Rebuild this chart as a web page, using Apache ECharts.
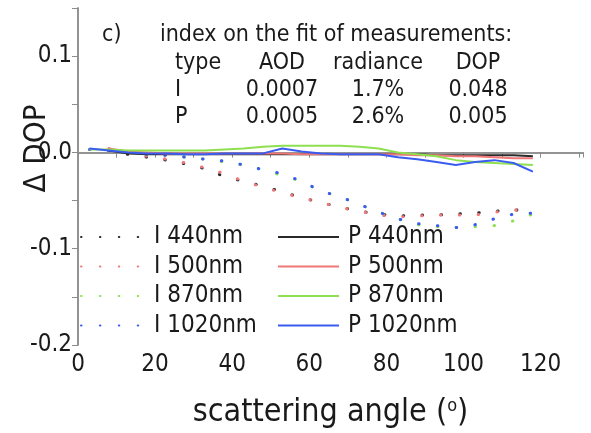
<!DOCTYPE html>
<html><head><meta charset="utf-8">
<script src="https://cdn.jsdelivr.net/npm/echarts@6/dist/echarts.min.js"></script>
<style>html,body{margin:0;padding:0;background:#fff}#c{width:591px;height:433px}</style>
</head><body><div id="c"></div>
<script>
// scattering angles (deg)
const angles = [3,8,13,18,23,28,33,38,43,48,53,58,63,68,73,78,83,88,93,98,103,108,113,118];
// intensity-based fit (dotted)
const I440  = [null,0.002,-0.002,-0.005,-0.008,-0.012,-0.017,-0.025,-0.030,-0.035,-0.041,-0.047,-0.052,-0.057,-0.061,-0.064,-0.066,-0.065,-0.065,-0.064,-0.063,-0.061,-0.060,-0.059];
const I500  = [null,0.004,0.000,-0.004,-0.007,-0.011,-0.016,-0.022,-0.030,-0.036,-0.042,-0.047,-0.052,-0.057,-0.061,-0.065,-0.067,-0.066,-0.065,-0.065,-0.065,-0.062,-0.060,-0.058];
const I870  = [0.003,0.002,0.000,-0.002,-0.003,-0.005,-0.007,-0.010,-0.013,-0.018,-0.024,-0.030,-0.040,-0.046,-0.054,-0.062,-0.069,-0.075,-0.077,-0.078,-0.077,-0.076,-0.071,-0.064];
const I1020 = [0.003,0.002,0.000,-0.002,-0.003,-0.005,-0.007,-0.009,-0.013,-0.018,-0.022,-0.030,-0.040,-0.046,-0.054,-0.062,-0.069,-0.074,-0.076,-0.078,-0.075,-0.069,-0.064,-0.063];
// polarization-based fit (solid)
const P440  = [null,0.002,-0.001,-0.002,-0.002,-0.002,-0.002,-0.002,-0.002,-0.002,-0.002,-0.002,-0.002,-0.002,-0.002,-0.002,-0.002,-0.002,-0.003,-0.003,-0.003,-0.003,-0.003,-0.004];
const P500  = [null,0.004,0.001,0.000,-0.001,-0.001,-0.001,-0.001,-0.001,-0.001,-0.001,-0.002,-0.002,-0.002,-0.002,-0.002,-0.002,-0.003,-0.003,-0.004,-0.004,-0.005,-0.006,-0.006];
const P870  = [0.003,0.003,0.002,0.002,0.002,0.002,0.002,0.003,0.004,0.006,0.007,0.007,0.007,0.007,0.006,0.004,0.000,-0.002,-0.004,-0.008,-0.010,-0.011,-0.012,-0.013];
const P1020 = [0.004,0.002,0.000,-0.001,-0.001,-0.002,-0.002,-0.001,-0.001,-0.001,0.004,0.001,-0.001,-0.002,-0.002,-0.002,-0.005,-0.007,-0.010,-0.013,-0.010,-0.008,-0.011,-0.020];
// names
const namesI = ['I 440nm','I 500nm','I 870nm','I 1020nm'];
const namesP = ['P 440nm','P 500nm','P 870nm','P 1020nm'];
// table
const tableTitle = 'index on the fit of measurements:';
const tableHead = ['type','AOD','radiance','DOP'];
const tableRowI = ['I','0.0007','1.7%','0.048'];
const tableRowP = ['P','0.0005','2.6%','0.005'];
const panelLabel = 'c)';

const colors = ['#2a2a2a','#f07878','#8ee050','#3a5cf0'];
const FF = "'DejaVu Sans Condensed','DejaVu Sans',sans-serif";
const pair = arr => angles.map((a,i)=>[a,arr[i]]);

const series = [];
[I440,I500,I870,I1020].forEach((d,i)=>series.push({
  name: namesI[i], type:'line', data: pair(d), symbol:'none', showSymbol:false, silent:true, animation:false,
  lineStyle:{color:colors[i], width:3, type:[0.5,18.4], cap:'round'}, itemStyle:{color:colors[i]}
}));
[P440,P500,P870,P1020].forEach((d,i)=>series.push({
  name: namesP[i], type:'line', data: pair(d), symbol:'none', showSymbol:false, silent:true, animation:false,
  lineStyle:{color:colors[i], width:2}, itemStyle:{color:colors[i]}
}));

const axisGray = '#8c8c8c';
const txt = (text,x,y,align)=>({type:'text', x:x, y:y, silent:true,
  style:{text:text, font:"23px "+FF, fill:'#1a1a1a', align:align||'left', verticalAlign:'middle'}});
const colX = [175,282,378,478];
const colA = ['left','center','center','center'];
const graphics = [txt(panelLabel,102,35), txt(tableTitle,160,35)];
[tableHead,tableRowI,tableRowP].forEach((row,r)=>row.forEach((t,c)=>graphics.push(txt(t,colX[c],63+r*27,colA[c]))));

const legendBase = {orient:'vertical', top:224, itemGap:3.5, itemHeight:14, padding:0,
  itemStyle:{color:'transparent', borderColor:'transparent', borderWidth:0},
  textStyle:{fontFamily:FF, fontSize:24, color:'#1a1a1a', lineHeight:26, padding:[0,0,0,4]}, selectedMode:false};

const chart = echarts.init(document.getElementById('c'), null, {renderer:'canvas'});
chart.setOption({
  animation:false,
  backgroundColor:'#fff',
  grid:{left:78, right:8, top:8, bottom:88, containLabel:false, outerBoundsMode:'none'},
  legend:[
    Object.assign({}, legendBase, {left:80, itemWidth:64, data:namesI}),
    Object.assign({}, legendBase, {left:277, itemWidth:61, data:namesP})
  ],
  xAxis:[{
    type:'value', min:0, max:131, interval:10, position:'bottom',
    name:'scattering angle ({s|o})', nameLocation:'middle', nameGap:52, nameMoveOverlap:false,
    nameTextStyle:{fontFamily:FF, fontSize:32, color:'#1a1a1a', rich:{s:{fontFamily:FF, fontSize:18, color:'#1a1a1a', padding:[0,0,14,0]}}},
    axisLine:{show:true, lineStyle:{color:axisGray, width:1.5}},
    axisTick:{show:true, length:5, lineStyle:{color:axisGray}},
    splitLine:{show:false},
    axisLabel:{fontFamily:FF, fontSize:24, color:'#1a1a1a', margin:8, showMaxLabel:false,
      formatter:v=> (Math.round(v)%20===0 ? String(Math.round(v)) : '')}
  },{
    type:'value', min:0, max:131, interval:10, position:'top',
    axisLine:{show:true, lineStyle:{color:axisGray, width:1.5}},
    axisTick:{show:true, inside:true, length:5, lineStyle:{color:axisGray}},
    axisLabel:{show:false}, splitLine:{show:false}
  }],
  yAxis:[{
    type:'value', min:-0.2, max:0.15, interval:0.05, position:'left',
    name:'\u0394 DOP', nameLocation:'middle', nameGap:26, nameRotate:90, nameMoveOverlap:false,
    nameTextStyle:{fontFamily:FF, fontSize:31, color:'#1a1a1a', padding:[0,0,0,56]},
    axisLine:{show:true, lineStyle:{color:axisGray, width:1.5}},
    axisTick:{show:true, length:5, lineStyle:{color:axisGray}},
    splitLine:{show:false},
    axisLabel:{fontFamily:FF, fontSize:24, color:'#1a1a1a', margin:6, showMaxLabel:false,
      formatter:v=>{const k=Math.round(v*20); return k%2===0 ? (k/20).toFixed(1) : '';}}
  },{
    type:'value', min:-0.2, max:0.15, interval:0.05, position:'right',
    axisLine:{show:true, lineStyle:{color:axisGray, width:1.5}},
    axisTick:{show:true, inside:true, length:6, lineStyle:{color:axisGray}},
    axisLabel:{show:false}, splitLine:{show:false}
  }],
  graphic: graphics,
  series: series
});
</script>
</body></html>
